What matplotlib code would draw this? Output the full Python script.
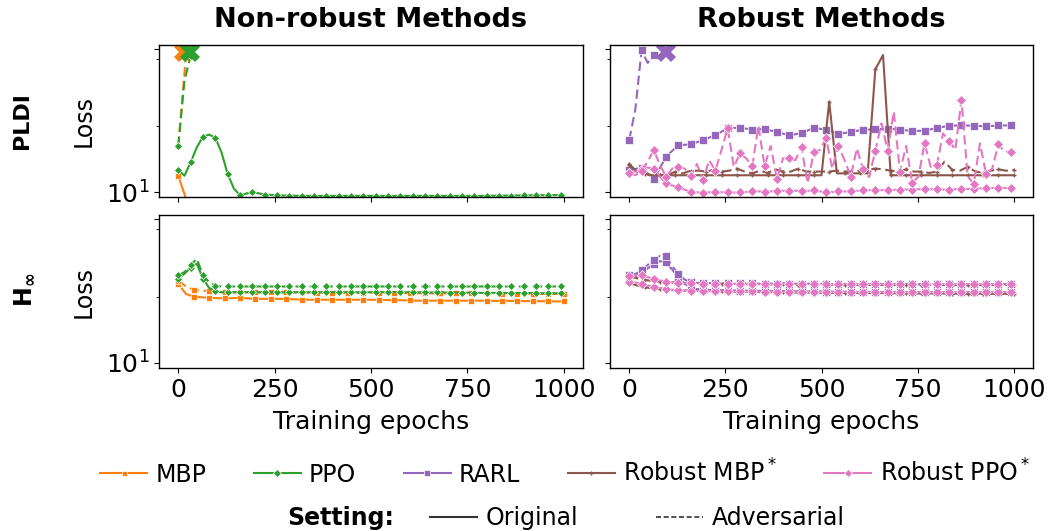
import numpy as np
import matplotlib
matplotlib.use("Agg")
import matplotlib.pyplot as plt
from matplotlib.lines import Line2D
from matplotlib.ticker import FixedLocator, FixedFormatter, NullFormatter

# ---------------- data ----------------
E16 = np.arange(0, 1000, 16)   # PPO / RARL / Robust PPO logging grid
E20 = np.arange(0, 1001, 20)   # MBP / Robust MBP logging grid
E32 = np.arange(0, 1000, 32)

X_TICKS = [0, 250, 500, 750, 1000]
COL_TITLES = ["Non-robust Methods", "Robust Methods"]
ROW_TITLES = ["PLDI", r"$\mathbf{H}_{\mathbf{\infty}}$"]

# ---- PLDI, non-robust ----
mbp_pldi_orig_x = [0, 20]
mbp_pldi_orig = [13.0, 9.0]
mbp_pldi_adv_x = [0, 20]
mbp_pldi_adv = [21.0, 90.0]
mbp_pldi_div = (14, 95.0)

ppo_pldi_orig = [14.3, 13.0, 16.1, 20.5, 24.4, 25.2, 24.0, 19.0, 13.4, 10.6,
                 9.5, 9.75, 10.0, 9.8, 9.6, 9.55, 9.5, 9.45, 9.45, 9.42,
                 9.4, 9.4, 9.4, 9.4, 9.4, 9.4, 9.4, 9.4, 9.4, 9.4,
                 9.4, 9.4, 9.4, 9.4, 9.4, 9.4, 9.4, 9.4, 9.4, 9.4,
                 9.4, 9.4, 9.4, 9.4, 9.4, 9.4, 9.4, 9.4, 9.4, 9.4,
                 9.42, 9.42, 9.44, 9.44, 9.45, 9.46, 9.47, 9.48, 9.48, 9.5,
                 9.5, 9.52, 9.52]
ppo_pldi_adv_x = [0, 16, 32]
ppo_pldi_adv = [21.0, 60.0, 90.0]
ppo_pldi_div = (30, 95.0)

# ---- PLDI, robust ----
rarl_pldi_orig = [14.2, 14.8, 12.3, 17.7, 21.3, 21.5, 23.1, 25.0, 27.9, 28.2,
                  27.3, 27.6, 26.3, 24.9, 25.8, 28.1, 27.3, 25.5, 26.3, 27.3,
                  27.4, 27.8, 27.3, 26.7, 26.9, 28.0, 29.1, 29.2, 29.1, 28.8,
                  29.2, 29.2]
rarl_pldi_adv_x = [0, 16, 32, 48, 64, 80, 96]
rarl_pldi_adv = [23.1, 38.0, 98.0, 80.0, 90.6, 86.0, 95.0]
rarl_pldi_div = (96, 95.0)

rmbp_pldi_orig = [15.7, 13.9, 13.4, 13.1, 13.1, 13.1, 13.1, 13.1, 13.1, 13.1,
                  13.1, 13.1, 13.1, 13.1, 13.1, 13.1, 13.1, 13.1, 13.1, 13.1,
                  13.1, 13.1, 13.1, 13.1, 13.1, 13.1, 42.8, 13.5, 13.5, 13.5,
                  13.5, 13.5, 72.1, 90.8, 13.1, 13.1, 13.1, 13.1, 13.1, 13.1,
                  13.1, 13.1, 13.1, 13.1, 13.1, 13.1, 13.1, 13.1, 13.1, 13.1,
                  13.1]
rmbp_pldi_adv = [15.4, 13.9, 13.5, 13.1, 13.1, 13.1, 13.9, 13.5, 14.1, 14.1,
                 13.9, 14.3, 13.9, 14.1, 14.6, 13.9, 13.5, 14.1, 13.6, 14.4,
                 13.9, 13.9, 14.6, 13.9, 13.9, 13.9, 13.9, 14.1, 13.9, 13.9,
                 14.1, 14.3, 14.6, 14.4, 14.1, 13.9, 14.4, 13.9, 13.9, 13.6,
                 13.9, 16.3, 14.3, 14.1, 15.0, 13.9, 13.6, 14.1, 14.4, 14.1,
                 14.3]
rppo_pldi_orig = [13.5, 13.9, 14.6, 14.8, 14.6, 12.8, 11.5, 11.1, 10.8, 10.4,
                  10.0, 9.95, 9.9, 9.95, 10.0, 9.95, 9.95, 9.9, 9.95, 10.0,
                  10.2, 10.1, 10.05, 10.1, 10.2, 10.2, 10.2, 10.2, 10.2, 10.2,
                  10.3, 10.1, 9.95, 10.0, 10.1, 10.1, 10.1, 10.2, 10.25, 10.3,
                  10.3, 10.3, 10.3, 10.35, 10.4, 10.4, 10.4, 10.45, 10.45, 10.45,
                  10.45, 10.4, 10.4, 10.45, 10.5, 10.5, 10.55, 10.6, 10.6, 10.65,
                  10.67, 10.67, 10.67]
rppo_pldi_adv = [13.5, 13.1, 14.1, 16.3, 19.7, 15.4, 12.8, 14.6, 15.0, 14.6,
                 12.9, 15.7, 12.1, 16.7, 14.1, 19.7, 27.9, 15.0, 18.6, 17.2,
                 15.2, 28.9, 15.2, 21.0, 12.3, 17.2, 17.2, 16.7, 20.5, 11.5,
                 19.1, 19.7, 23.7, 14.6, 21.0, 16.7, 12.8, 20.2, 14.4, 12.7,
                 19.5, 30.2, 19.5, 36.5, 13.9, 21.0, 11.6, 12.8, 21.9, 15.0,
                 15.4, 25.7, 22.7, 19.7, 44.0, 12.9, 11.4, 21.9, 13.4, 14.6,
                 21.6, 19.1, 19.1]

# ---- H-infinity, non-robust ----
mbp_hinf_orig = [35.5, 30.2, 28.9, 28.6, 28.4, 28.2, 28.1, 28.2, 28.4, 28.1,
                 27.9, 27.9, 27.9, 27.9, 27.8, 27.7, 27.6, 27.5, 27.5, 27.5,
                 27.5, 27.5, 27.5, 27.5, 27.5, 27.5, 27.4, 27.4, 27.3, 27.3,
                 27.2, 27.1, 27.1, 27.1, 27.1, 27.1, 27.1, 27.1, 27.1, 27.1,
                 27.1, 27.0, 27.0, 27.0, 27.0, 26.9, 26.9, 26.9, 26.8, 26.8,
                 26.8]
mbp_hinf_adv = [37.4, 34.0, 32.2, 31.9, 31.6, 31.3, 31.0, 31.0, 31.0, 31.0,
                31.0, 31.0, 31.0, 30.9, 30.9, 30.9, 30.9, 30.8, 30.8, 30.8,
                30.8, 30.8, 30.7, 30.7, 30.7, 30.7, 30.6, 30.6, 30.6, 30.6,
                30.6, 30.5, 30.5, 30.5, 30.5, 30.5, 30.5, 30.4, 30.4, 30.4,
                30.4, 30.4, 30.3, 30.3, 30.3, 30.3, 30.3, 30.2, 30.2, 30.2,
                30.2]
ppo_hinf_orig = [38.5, 41.7, 45.9, 49.0, 38.5, 33.3, 31.4, 31.0, 31.0, 31.0,
                 31.0, 31.0, 31.0, 31.0, 31.0, 31.0, 31.0, 31.0, 31.0, 31.0,
                 31.0, 31.0, 31.0, 31.0, 31.0, 31.0, 31.0, 31.0, 31.0, 31.0,
                 31.0, 31.0, 31.0, 31.0, 31.0, 31.0, 31.0, 31.0, 31.0, 31.0,
                 30.9, 30.9, 30.9, 30.9, 30.8, 30.8, 30.8, 30.8, 30.7, 30.7,
                 30.7, 30.7, 30.7, 30.6, 30.6, 30.6, 30.6, 30.6, 30.5, 30.5,
                 30.5, 30.5, 30.5]
ppo_hinf_adv = [40.6, 42.8, 47.7, 53.1, 40.6, 36.5, 34.5, 34.0, 34.0, 34.0,
                34.0, 34.0, 34.0, 34.0, 34.0, 34.0, 34.0, 34.0, 34.0, 34.0,
                34.0, 34.0, 34.0, 34.0, 34.0, 34.0, 34.0, 34.0, 34.0, 34.0,
                34.0, 34.0, 34.0, 34.0, 34.0, 34.0, 34.0, 34.0, 34.0, 34.0,
                34.0, 34.0, 34.0, 34.0, 34.0, 34.0, 34.0, 34.0, 34.0, 34.0,
                34.0, 34.0, 34.0, 34.0, 34.0, 34.0, 34.0, 34.0, 34.0, 34.0,
                34.0, 34.0, 34.0]

# ---- H-infinity, robust ----
rarl_hinf_orig = [39.5, 40.0, 42.0, 45.5, 48.5, 51.0, 50.0, 44.5, 39.5, 35.5,
                  33.3, 32.6, 32.4, 32.2, 32.0, 32.0, 31.9, 31.9, 31.8, 31.8,
                  31.7, 31.7, 31.6, 31.6, 31.6, 31.5, 31.5, 31.5, 31.4, 31.4,
                  31.4, 31.4, 31.3, 31.3, 31.3, 31.3, 31.2, 31.2, 31.2, 31.2,
                  31.2, 31.1, 31.1, 31.1, 31.1, 31.1, 31.1, 31.0, 31.0, 31.0,
                  31.0, 31.0, 31.0, 31.0, 31.0, 31.0, 31.0, 31.0, 31.0, 31.0,
                  31.0, 31.0, 31.0]
rarl_hinf_adv = [40.6, 41.5, 44.0, 48.0, 52.0, 55.5, 55.0, 47.0, 41.5, 38.0,
                 36.5, 36.0, 35.9, 35.9, 35.8, 35.8, 35.8, 35.7, 35.7, 35.7,
                 35.7, 35.6, 35.6, 35.6, 35.6, 35.6, 35.5, 35.5, 35.5, 35.5,
                 35.5, 35.5, 35.5, 35.4, 35.4, 35.4, 35.4, 35.4, 35.4, 35.4,
                 35.4, 35.4, 35.3, 35.3, 35.3, 35.3, 35.3, 35.3, 35.3, 35.3,
                 35.3, 35.3, 35.3, 35.3, 35.3, 35.3, 35.3, 35.3, 35.3, 35.3,
                 35.3, 35.3, 35.3]
rmbp_hinf_orig = [35.9, 34.6, 33.6, 33.0, 32.6, 32.3, 32.0, 31.9, 31.8, 31.7,
                  31.6, 31.5, 31.5, 31.4, 31.3, 31.3, 31.2, 31.1, 31.1, 31.0,
                  31.0, 30.9, 30.9, 30.9, 30.8, 30.8, 30.8, 30.7, 30.7, 30.7,
                  30.6, 30.6, 30.6, 30.6, 30.5, 30.5, 30.5, 30.5, 30.4, 30.4,
                  30.4, 30.4, 30.3, 30.3, 30.3, 30.3, 30.3, 30.2, 30.2, 30.2,
                  30.2]
rmbp_hinf_adv = [40.0, 38.8, 37.8, 37.2, 36.8, 36.4, 36.1, 35.9, 35.8, 35.7,
                 35.6, 35.5, 35.5, 35.4, 35.4, 35.3, 35.3, 35.3, 35.2, 35.2,
                 35.2, 35.1, 35.1, 35.1, 35.1, 35.0, 35.0, 35.0, 35.0, 35.0,
                 34.9, 34.9, 34.9, 34.9, 34.9, 34.9, 34.9, 34.8, 34.8, 34.8,
                 34.8, 34.8, 34.8, 34.8, 34.8, 34.8, 34.8, 34.8, 34.8, 34.8,
                 34.8]
rppo_hinf_orig = [36.5, 36.2, 35.6, 34.6, 33.8, 33.2, 32.8, 32.3, 31.9, 31.8,
                  31.7, 31.7, 31.6, 31.6, 31.5, 31.5, 31.5, 31.4, 31.4, 31.4,
                  31.4, 31.3, 31.3, 31.3, 31.3, 31.3, 31.2, 31.2, 31.2, 31.2,
                  31.2, 31.2, 31.1, 31.1, 31.1, 31.1, 31.1, 31.1, 31.1, 31.1,
                  31.0, 31.0, 31.0, 31.0, 31.0, 31.0, 31.0, 31.0, 31.0, 31.0,
                  31.0, 31.0, 31.0, 31.0, 31.0, 31.0, 31.0, 31.0, 31.0, 31.0,
                  31.0, 31.0, 31.0]
rppo_hinf_adv = [40.0, 40.6, 40.6, 39.5, 38.5, 37.5, 36.8, 36.3, 35.9, 35.8,
                 35.7, 35.7, 35.6, 35.6, 35.6, 35.5, 35.5, 35.5, 35.5, 35.5,
                 35.5, 35.4, 35.4, 35.4, 35.4, 35.4, 35.4, 35.4, 35.4, 35.4,
                 35.4, 35.4, 35.3, 35.3, 35.3, 35.3, 35.3, 35.3, 35.3, 35.3,
                 35.3, 35.3, 35.3, 35.3, 35.3, 35.3, 35.3, 35.3, 35.3, 35.3,
                 35.3, 35.3, 35.3, 35.3, 35.3, 35.3, 35.3, 35.3, 35.3, 35.3,
                 35.3, 35.3, 35.3]

# ---------------- style ----------------
C_MBP, C_PPO, C_RARL, C_RMBP, C_RPPO = "#ff7f0e", "#2ca02c", "#9467bd", "#8c564b", "#e377c2"
STY = {
    "MBP": dict(color=C_MBP, marker="s", ms=4.5),
    "PPO": dict(color=C_PPO, marker="D", ms=4.5),
    "RARL": dict(color=C_RARL, marker="s", ms=6.0),
    "RMBP": dict(color=C_RMBP, marker="+", ms=3.0),
    "RPPO": dict(color=C_RPPO, marker="D", ms=5.0),
}
LW = 1.5
DASH = (0, (4.5, 2.2))

W, H = 1048, 531
fig = plt.figure(figsize=(W / 100, H / 100), dpi=100)


def frac_rect(x0, y0, x1, y1):
    return [x0 / W, 1 - y1 / H, (x1 - x0) / W, (y1 - y0) / H]


ax_tl = fig.add_axes(frac_rect(159, 45, 583, 197))
ax_tr = fig.add_axes(frac_rect(610, 45, 1033, 197))
ax_bl = fig.add_axes(frac_rect(159, 215, 583, 368))
ax_br = fig.add_axes(frac_rect(610, 215, 1033, 368))


def line(ax, x, y, key, ls, markevery=1):
    s = STY[key]
    plus = s["marker"] == "+"
    ax.plot(x, y, color=s["color"], ls=DASH if ls == "--" else ls, lw=LW,
            marker=s["marker"], ms=s["ms"], markevery=markevery,
            mec=s["color"] if plus else "white", mew=1.0 if plus else 0.5)


def diverge(ax, pt, key):
    ax.plot([pt[0]], [pt[1]], marker="X", ms=15, color=STY[key]["color"], mew=0, ls="none")


# top-left
line(ax_tl, mbp_pldi_orig_x, mbp_pldi_orig, "MBP", "-", 2)
line(ax_tl, mbp_pldi_adv_x, mbp_pldi_adv, "MBP", "--", 2)
diverge(ax_tl, mbp_pldi_div, "MBP")
line(ax_tl, E16, ppo_pldi_orig, "PPO", "-", 2)
line(ax_tl, ppo_pldi_adv_x, ppo_pldi_adv, "PPO", "--", 2)
diverge(ax_tl, ppo_pldi_div, "PPO")

# top-right
line(ax_tr, E32, rarl_pldi_orig, "RARL", "-", 1)
line(ax_tr, rarl_pldi_adv_x, rarl_pldi_adv, "RARL", "--", 2)
diverge(ax_tr, rarl_pldi_div, "RARL")
line(ax_tr, E20, rmbp_pldi_orig, "RMBP", "-", 2)
line(ax_tr, E20, rmbp_pldi_adv, "RMBP", "--", 2)
line(ax_tr, E16, rppo_pldi_orig, "RPPO", "-", 2)
line(ax_tr, E16, rppo_pldi_adv, "RPPO", "--", 2)

# bottom-left
line(ax_bl, E20, mbp_hinf_orig, "MBP", "-", 2)
line(ax_bl, E20, mbp_hinf_adv, "MBP", "--", 2)
line(ax_bl, E16, ppo_hinf_orig, "PPO", "-", 2)
line(ax_bl, E16, ppo_hinf_adv, "PPO", "--", 2)

# bottom-right
line(ax_br, E16, rarl_hinf_orig, "RARL", "-", 2)
line(ax_br, E16, rarl_hinf_adv, "RARL", "--", 2)
line(ax_br, E20, rmbp_hinf_orig, "RMBP", "-", 2)
line(ax_br, E20, rmbp_hinf_adv, "RMBP", "--", 2)
line(ax_br, E16, rppo_hinf_orig, "RPPO", "-", 2)
line(ax_br, E16, rppo_hinf_adv, "RPPO", "--", 2)

for ax in (ax_tl, ax_tr, ax_bl, ax_br):
    ax.set_yscale("log")
    ax.set_ylim(9.23, 106.7)
    ax.set_xlim(-50, 1050)
    ax.yaxis.set_major_locator(FixedLocator([10, 100]))
    ax.yaxis.set_minor_locator(FixedLocator([28.9, 85.1]))
    ax.yaxis.set_minor_formatter(NullFormatter())
    ax.set_xticks(X_TICKS)
    ax.tick_params(labelsize=18)
    for sp in ax.spines.values():
        sp.set_linewidth(1.0)

for ax in (ax_tl, ax_bl):
    ax.yaxis.set_major_formatter(FixedFormatter([r"$\mathdefault{10^{1}}$", ""]))
    ax.set_ylabel("Loss", fontsize=17)
    ax.yaxis.set_label_coords(-0.15, 0.5)
for ax in (ax_tr, ax_br):
    ax.yaxis.set_major_formatter(FixedFormatter(["", ""]))
for ax in (ax_tl, ax_tr):
    ax.set_xticklabels([])
for ax in (ax_bl, ax_br):
    ax.set_xticklabels([str(t) for t in X_TICKS])
    ax.set_xlabel("Training epochs", fontsize=18, labelpad=6)

ax_tl.set_title(COL_TITLES[0], fontsize=19.5, fontweight="bold", pad=13)
ax_tr.set_title(COL_TITLES[1], fontsize=19.5, fontweight="bold", pad=13)

fig.text(22 / W, 1 - 121 / H, ROW_TITLES[0], rotation=90, fontsize=16, fontweight="bold",
         ha="center", va="center")
fig.text(24 / W, 1 - 290 / H, ROW_TITLES[1], rotation=90, fontsize=17, fontweight="bold",
         ha="center", va="center")

# legends
names = ["MBP", "PPO", "RARL", "Robust MBP$^*$", "Robust PPO$^*$"]
keys = ["MBP", "PPO", "RARL", "RMBP", "RPPO"]
handles = []
for k in keys:
    s = STY[k]
    plus = s["marker"] == "+"
    handles.append(Line2D([0], [0], color=s["color"], lw=LW, marker=s["marker"],
                          ms=s["ms"] * (1.0 if plus else 0.8),
                          mec=s["color"] if plus else "white", mew=1.0 if plus else 0.5))
fig.legend(handles, names, ncol=5, loc="center left", bbox_to_anchor=(90.6 / W, 1 - 473 / H),
           frameon=False, fontsize=17, handlelength=2.0, handletextpad=0.35,
           columnspacing=2.0, borderaxespad=0)

fig.text(287 / W, 1 - 518 / H, "Setting:", fontsize=17, fontweight="bold", ha="left", va="center")
h2 = [Line2D([0], [0], color="#333333", lw=LW, ls="-"),
      Line2D([0], [0], color="#333333", lw=1.2, ls=(0, (3.0, 1.6)))]
fig.legend(h2, ["Original", "Adversarial"], ncol=2, loc="center left",
           bbox_to_anchor=(420.6 / W, 1 - 518 / H), frameon=False, fontsize=17,
           handlelength=2.0, handletextpad=0.35, columnspacing=3.3, borderaxespad=0)

fig.savefig("out.png", dpi=100)
